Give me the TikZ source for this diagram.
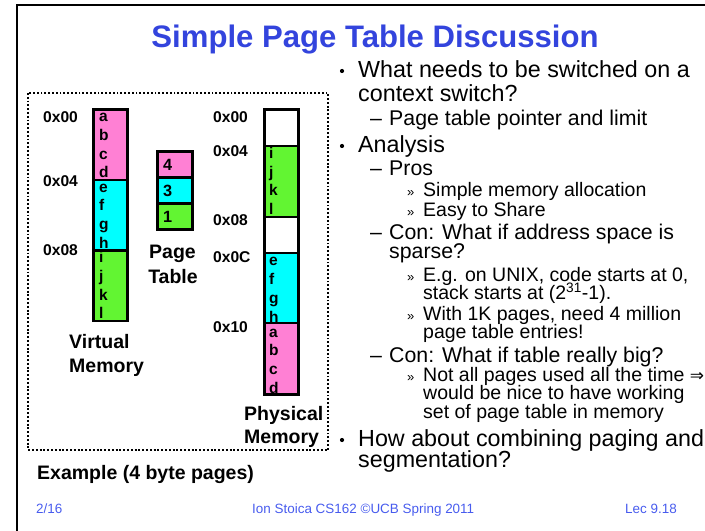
\documentclass[tikz,border=0pt]{standalone}
\usepackage{fontspec}
\setmainfont{Liberation Sans}
\newfontfamily\arrowfont{DejaVu Sans}
\definecolor{titleblue}{RGB}{51,68,221}
\definecolor{footblue}{RGB}{72,92,238}
\definecolor{pagepink}{RGB}{255,128,212}
\definecolor{pagecyan}{RGB}{0,255,255}
\definecolor{pagegreen}{RGB}{98,245,50}
\begin{document}
\begin{tikzpicture}[x=1bp,y=-1bp,
  pg/.style={draw=black,line width=2.6bp,inner sep=0pt,outer sep=0pt},
  vpg/.style={pg,minimum width=34bp,minimum height=70.5bp},
  tpg/.style={pg,minimum width=35bp,minimum height=26bp},
  letter/.style={font=\bfseries\fontsize{15.5bp}{16bp}\selectfont,anchor=base west,inner sep=0pt},
  num/.style={font=\bfseries\fontsize{16.3bp}{17bp}\selectfont,anchor=west,inner sep=0pt},
  addr/.style={font=\bfseries\fontsize{15.6bp}{16bp}\selectfont,anchor=west,inner sep=0pt},
  lbl/.style={font=\bfseries\fontsize{19.5bp}{20bp}\selectfont,anchor=base west,inner sep=0pt},
  lvla/.style={font=\fontsize{23.3bp}{24bp}\selectfont,anchor=base west,inner sep=0pt},
  lvlb/.style={font=\fontsize{21.3bp}{22bp}\selectfont,anchor=base west,inner sep=0pt},
  lvlc/.style={font=\fontsize{19.5bp}{20bp}\selectfont,anchor=base west,inner sep=0pt},
  bul/.style={circle,fill=black,inner sep=0pt,minimum size=4.2bp},
  guil/.style={font=\fontsize{13bp}{13bp}\selectfont,anchor=base west,inner sep=0pt},
  foot/.style={font=\fontsize{13.45bp}{14bp}\selectfont,text=footblue,anchor=base west,inner sep=0pt}]
\useasboundingbox (0,0) rectangle (705,531);

% slide frame
\draw[line width=1.6bp] (17,531) -- (17,5) -- (705,5);

% title
\node[font=\bfseries\fontsize{31.1bp}{32bp}\selectfont,text=titleblue,anchor=base,inner sep=0pt] (title) at (375,48) {Simple Page Table Discussion};

% example frame
\draw[line width=2bp,dash pattern=on 1.9bp off 1.9bp] (28,93) rectangle (328,450);

% virtual memory
\node[vpg,fill=pagepink] (vA) at (110.5,144.75) {};
\node[letter] (va) at (99,121.7) {a};
\node[letter] (vb) at (99,140.4) {b};
\node[letter] (vc) at (99,159.1) {c};
\node[letter] (vd) at (99,177.8) {d};
\node[vpg,fill=pagecyan] (vB) at (110.5,215.25) {};
\node[letter] (ve) at (99,192.2) {e};
\node[letter] (vf) at (99,210.9) {f};
\node[letter] (vg) at (99,229.6) {g};
\node[letter] (vh) at (99,248.3) {h};
\node[vpg,fill=pagegreen] (vC) at (110.5,285.75) {};
\node[letter] (vi) at (99,262.7) {i};
\node[letter] (vj) at (99,281.4) {j};
\node[letter] (vk) at (99,300.1) {k};
\node[letter] (vl) at (99,318.8) {l};

\node[addr] (va0) at (43,117.2) {0x00};
\node[addr] (va4) at (43,181.6) {0x04};
\node[addr] (va8) at (43,250) {0x08};
\node[lbl] (vlab1) at (69,348.3) {Virtual};
\node[lbl] (vlab2) at (69,372) {Memory};

% page table
\node[tpg,fill=pagepink] (t4) at (175,164.5) {};
\node[tpg,fill=pagecyan] (t3) at (175,190.5) {};
\node[tpg,fill=pagegreen] (t1) at (175,216.5) {};
\node[num] (n4) at (163,164.5) {4};
\node[num] (n3) at (163,190.5) {3};
\node[num] (n1) at (163,216.5) {1};
\node[lbl,anchor=base] (tlab1) at (172.5,259) {Page};
\node[lbl,anchor=base] (tlab2) at (173,283.3) {Table};

% physical memory
\node[pg,minimum width=34bp,minimum height=36.5bp,fill=white] (p0) at (281.5,127.75) {};
\node[pg,minimum width=34bp,minimum height=71bp,fill=pagegreen] (p1) at (281.5,181.5) {};
\node[letter] (pi) at (269,158.6) {i};
\node[letter] (pj) at (269,177.3) {j};
\node[letter] (pk) at (269,196) {k};
\node[letter] (pl) at (269,214.7) {l};
\node[pg,minimum width=34bp,minimum height=36bp,fill=white] (p2) at (281.5,235) {};
\node[pg,minimum width=34bp,minimum height=70bp,fill=pagecyan] (p3) at (281.5,288) {};
\node[letter] (pe) at (269,266) {e};
\node[letter] (pf) at (269,284.7) {f};
\node[letter] (pg) at (269,303.4) {g};
\node[letter] (ph) at (269,322.1) {h};
\node[pg,minimum width=34bp,minimum height=71.5bp,fill=pagepink] (p4) at (281.5,358.75) {};
\node[letter] (pa) at (269,337) {a};
\node[letter] (pb) at (269,355.7) {b};
\node[letter] (pc) at (269,374.4) {c};
\node[letter] (pd) at (269,393.1) {d};

\node[addr] (pa0) at (213,117.2) {0x00};
\node[addr] (pa4) at (213,151.2) {0x04};
\node[addr] (pa8) at (213,219.7) {0x08};
\node[addr] (paC) at (213,257.5) {0x0C};
\node[addr] (pa10) at (213,327) {0x10};
\node[lbl] (plab1) at (244,420.6) {Physical};
\node[lbl] (plab2) at (244,443.3) {Memory};

\node[lbl] (example) at (37,479) {Example (4 byte pages)};

% discussion points
\node[bul] (b1) at (342,71) {};
\node[lvla] (t1a) at (358,77.7) {What needs to be switched on a};
\node[lvla] (t1b) at (358,101.3) {context switch?};
\node[lvlb] (d1) at (370,126) {–};
\node[lvlb] (t2) at (389,126) {Page table pointer and limit};
\node[bul] (b2) at (342,146) {};
\node[lvla] (t3a) at (358,152.5) {Analysis};
\node[lvlb] (d2) at (370,175.5) {–};
\node[lvlb] (t4a) at (389,175.5) {Pros};
\node[guil] (g1) at (407,197) {»};
\node[lvlc] (t5) at (423,197) {Simple memory allocation};
\node[guil] (g2) at (407,216.5) {»};
\node[lvlc] (t6) at (423,216.5) {Easy to Share};
\node[lvlb] (d3) at (370,240) {–};
\node[lvlb] (t7a) at (389,240) {Con: What if address space is};
\node[lvlb] (t7b) at (389,259) {sparse?};
\node[guil] (g3) at (407,281.5) {»};
\node[lvlc] (t8a) at (423,281.5) {E.g. on UNIX, code starts at 0,};
\node[lvlc] (t8b) at (423,299.5) {stack starts at (2\textsuperscript{31}-1).};
\node[guil] (g4) at (407,320.5) {»};
\node[lvlc] (t9a) at (423,320.5) {With 1K pages, need 4 million};
\node[lvlc] (t9b) at (423,338.5) {page table entries!};
\node[lvlb] (d4) at (370,362) {–};
\node[lvlb] (t10) at (389,362) {Con: What if table really big?};
\node[guil] (g5) at (407,381) {»};
\node[lvlc] (t11a) at (423,381) {Not all pages used all the time {\arrowfont\fontsize{17bp}{17bp}\selectfont ⇒}};
\node[lvlc] (t11b) at (423,399.5) {would be nice to have working};
\node[lvlc] (t11c) at (423,418) {set of page table in memory};
\node[bul] (b3) at (342,440) {};
\node[lvla] (t12a) at (358,446.7) {How about combining paging and};
\node[lvla] (t12b) at (358,467) {segmentation?};

% footer
\node[foot] (f1) at (36,513.5) {2/16};
\node[foot] (f2) at (252,513.5) {Ion Stoica CS162 ©UCB Spring 2011};
\node[foot] (f3) at (625,513.5) {Lec 9.18};
\end{tikzpicture}
\end{document}
